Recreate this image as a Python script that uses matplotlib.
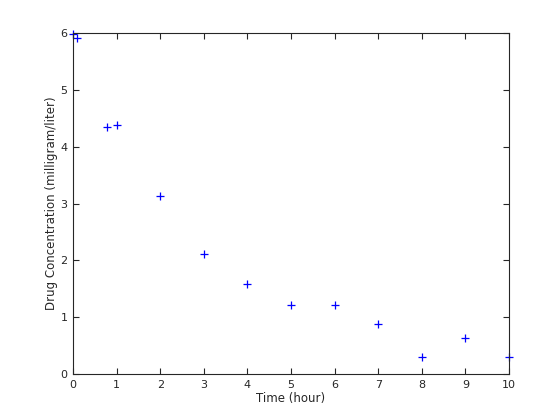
import matplotlib
matplotlib.use("Agg")
import matplotlib.pyplot as plt

# Measured drug concentration over time
time_hr = [0.0, 0.1, 0.78, 1, 2, 3, 4, 5, 6, 7, 8, 9, 10]
conc_mg_l = [5.98, 5.92, 4.34, 4.38, 3.13, 2.11, 1.58, 1.21, 1.21, 0.885, 0.30, 0.63, 0.30]

AX_COLOR = "#262626"

fig = plt.figure(figsize=(5.6, 4.2), dpi=100)
ax = fig.add_axes([0.1304, 0.1095, 0.7786, 0.8119])

ax.plot(time_hr, conc_mg_l, linestyle="none", marker="+", markersize=6,
        markeredgewidth=0.9, color="#0000ff", clip_on=False)

ax.set_xlim(0, 10)
ax.set_ylim(0, 6)
ax.set_xticks(range(0, 11))
ax.set_yticks(range(0, 7))
ax.set_xlabel("Time (hour)", fontsize=8.5, color=AX_COLOR, labelpad=2)
ax.set_ylabel("Drug Concentration (milligram/liter)", fontsize=8.5, color=AX_COLOR, labelpad=2)

ax.tick_params(direction="in", length=4, width=0.8, top=True, right=True,
               labelsize=8, colors=AX_COLOR, labelcolor=AX_COLOR, pad=4)
for s in ax.spines.values():
    s.set_color(AX_COLOR)
    s.set_linewidth(0.8)

fig.savefig("out.png", dpi=100)
